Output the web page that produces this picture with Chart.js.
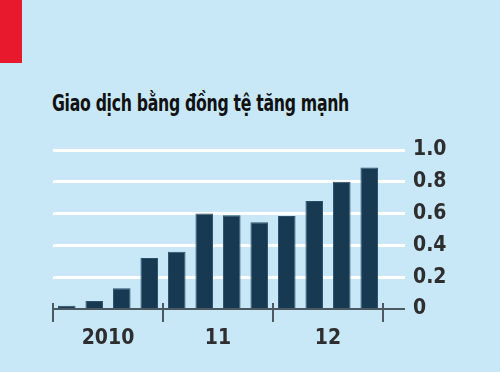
<!DOCTYPE html>
<html>
<head>
<meta charset="utf-8">
<script src="https://cdn.jsdelivr.net/npm/chart.js@4"></script>
<style>
  html, body { margin: 0; padding: 0; }
  body { width: 500px; height: 372px; background: #c8e8f8; position: relative; overflow: hidden; }
  #flag { position: absolute; left: 0; top: 0; width: 22px; height: 63px; background: #e8192c; }
  #title {
    position: absolute; left: 52px; top: 92px;
    font-family: "DejaVu Sans Condensed", "DejaVu Sans", sans-serif;
    font-weight: bold; font-size: 23px; line-height: 23px; color: #111;
    letter-spacing: -0.4px; white-space: nowrap;
    transform: scaleX(0.76); transform-origin: 0 0;
  }
  #chart-wrap { position: absolute; left: 0; top: 0; width: 500px; height: 372px; }
</style>
</head>
<body>
<div id="flag"></div>
<div id="title">Giao dịch bằng đồng tệ tăng mạnh</div>
<div id="chart-wrap"><canvas id="chart"></canvas></div>
<script>
// quarterly values, 2010 Q1 .. 2012 Q4
const quarters = ["2010 Q1", "2010 Q2", "2010 Q3", "2010 Q4",
                  "2011 Q1", "2011 Q2", "2011 Q3", "2011 Q4",
                  "2012 Q1", "2012 Q2", "2012 Q3", "2012 Q4"];
const values = [0.02, 0.05, 0.13, 0.32, 0.36, 0.60, 0.59, 0.545, 0.585, 0.68, 0.80, 0.89];
const yearLabels = ["2010", "11", "12"];
const yTicks = [0, 0.2, 0.4, 0.6, 0.8, 1.0];

const axisDark = "#4c5960";
const labelFont = { family: "'DejaVu Sans Condensed', 'DejaVu Sans', sans-serif", size: 21, weight: "bold" };

// little tick stubs that poke above the baseline at each year boundary
const yearStubs = {
  id: "yearStubs",
  afterDatasetsDraw(chart) {
    const yr = chart.scales.year;
    const base = chart.scales.y.getPixelForValue(0);
    const step = yr.width / yearLabels.length;
    const ctx = chart.ctx;
    ctx.save();
    ctx.strokeStyle = axisDark;
    ctx.lineWidth = 2;
    for (let i = 0; i <= yearLabels.length; i++) {
      const x = Math.round(yr.left + i * step);
      ctx.beginPath();
      ctx.moveTo(x, base - 6);
      ctx.lineTo(x, base);
      ctx.stroke();
    }
    ctx.restore();
  },
};

new Chart(document.getElementById("chart"), {
  type: "bar",
  data: {
    labels: quarters,
    datasets: [
      {
        data: values,
        backgroundColor: "#173a52",
        borderColor: "#2a5069",
        borderWidth: 1,
        barPercentage: 0.64,
        categoryPercentage: 1,
        xAxisID: "x",
      },
    ],
  },
  options: {
    responsive: true,
    maintainAspectRatio: false,
    animation: false,
    layout: { padding: { left: 53, top: 150, right: 0, bottom: 0 } },
    plugins: {
      legend: { display: false },
      tooltip: { enabled: false },
    },
    scales: {
      x: {
        type: "category",
        display: false,
      },
      year: {
        type: "category",
        labels: yearLabels,
        position: "bottom",
        offset: true,
        border: { display: false },
        grid: {
          offset: true,
          drawOnChartArea: false,
          tickLength: 13,
          color: axisDark,
          lineWidth: 2,
        },
        ticks: { color: "#2e2e2e", font: labelFont, padding: 4, maxRotation: 0 },
        afterFit: (scale) => { scale.height = 63; },
      },
      y: {
        position: "right",
        min: 0,
        max: 1,
        border: { display: false },
        afterBuildTicks: (scale) => { scale.ticks = yTicks.map((v) => ({ value: v })); },
        grid: {
          tickLength: 22,
          color: (ctx) => (ctx.tick && ctx.tick.value === 0 ? axisDark : "#ffffff"),
          lineWidth: (ctx) => (ctx.tick && ctx.tick.value === 0 ? 2 : 3),
        },
        ticks: {
          color: "#2e2e2e",
          font: labelFont,
          padding: 8,
          callback: (v) => (v === 0 ? "0" : v.toFixed(1)),
        },
        afterFit: (scale) => { scale.width = 117; },
      },
    },
  },
  plugins: [yearStubs],
});
</script>
</body>
</html>
